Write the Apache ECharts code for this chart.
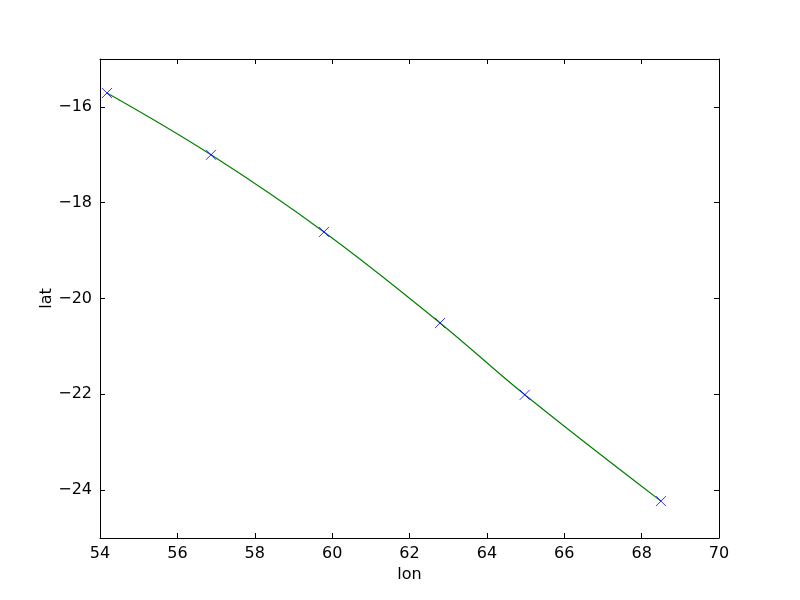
<!DOCTYPE html>
<html><head><meta charset="utf-8">
<script src="https://cdn.jsdelivr.net/npm/echarts@6/dist/echarts.min.js"></script>
<style>html,body{margin:0;padding:0;background:#fff}#c{width:800px;height:600px}</style>
</head><body><div id="c"></div>
<script>
const lon = [54.18, 56.87, 59.79, 62.79, 64.98, 68.5];
const lat = [-15.71, -17.0, -18.61, -20.51, -22.01, -24.23];
const xTicks = [54, 56, 58, 60, 62, 64, 66, 68, 70];
const yTicks = [-24, -22, -20, -18, -16];

const pts = lon.map((v, i) => [v, lat[i]]);
const font = 'DejaVu Sans';
const fmt = v => String(v).replace('-', '\u2212');

const chart = echarts.init(document.getElementById('c'), null, {renderer: 'canvas'});
const line = {show: true, onZero: false, lineStyle: {color: '#000', width: 1}};
const tick = {show: true, inside: true, length: 5, lineStyle: {color: '#000'}};
chart.setOption({
  animation: false,
  grid: {left: 100, right: 81, top: 59, bottom: 62, containLabel: false},
  xAxis: [
    {type: 'value', min: 54, max: 70, interval: 2, position: 'bottom',
      name: 'lon', nameLocation: 'middle', nameGap: 29, nameMoveOverlap: false,
      nameTextStyle: {fontFamily: font, fontSize: 16, color: '#000'},
      axisLine: line, splitLine: {show: false},
      axisTick: Object.assign({customValues: xTicks}, tick),
      axisLabel: {customValues: xTicks, fontFamily: font, fontSize: 16, color: '#000', margin: 8, formatter: fmt}},
    {type: 'value', min: 54, max: 70, interval: 2, position: 'top',
      axisLine: line, splitLine: {show: false},
      axisTick: Object.assign({customValues: xTicks}, tick),
      axisLabel: {show: false}}
  ],
  yAxis: [
    {type: 'value', min: -25, max: -15, position: 'left',
      name: 'lat', nameLocation: 'middle', nameGap: 45, nameMoveOverlap: false,
      nameTextStyle: {fontFamily: font, fontSize: 16, color: '#000'},
      axisLine: line, splitLine: {show: false},
      axisTick: Object.assign({customValues: yTicks}, tick),
      axisLabel: {customValues: yTicks, fontFamily: font, fontSize: 16, color: '#000', margin: 8, formatter: fmt}},
    {type: 'value', min: -25, max: -15, position: 'right',
      axisLine: line, splitLine: {show: false},
      axisTick: Object.assign({customValues: yTicks}, tick),
      axisLabel: {show: false}}
  ],
  series: [
    {type: 'line', data: pts, smooth: 0.4, showSymbol: false, symbol: 'none',
     lineStyle: {color: '#008000', width: 1.2}, xAxisIndex: 0, yAxisIndex: 0, z: 2},
    {type: 'scatter', data: pts, symbol: 'path://M0,0L10,10M10,0L0,10', symbolSize: 10,
     itemStyle: {color: 'none', borderColor: '#0000ff', borderWidth: 1}, xAxisIndex: 0, yAxisIndex: 0, z: 3}
  ]
});
</script></body></html>
